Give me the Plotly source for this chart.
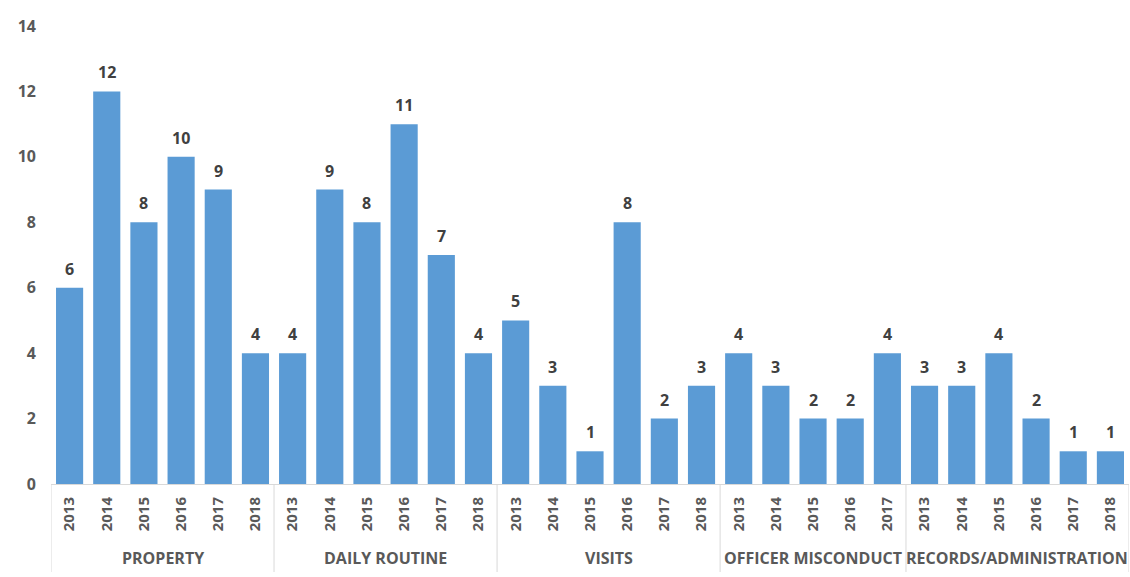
import plotly.graph_objects as go

groups = ["PROPERTY", "DAILY ROUTINE", "VISITS", "OFFICER MISCONDUCT", "RECORDS/ADMINISTRATION"]
group_years = [
    ["2013", "2014", "2015", "2016", "2017", "2018"],
    ["2013", "2014", "2015", "2016", "2017", "2018"],
    ["2013", "2014", "2015", "2016", "2017", "2018"],
    ["2013", "2014", "2015", "2016", "2017"],
    ["2013", "2014", "2015", "2016", "2017", "2018"],
]
property_vals = [6, 12, 8, 10, 9, 4]
daily_routine_vals = [4, 9, 8, 11, 7, 4]
visits_vals = [5, 3, 1, 8, 2, 3]
officer_misconduct_vals = [4, 3, 2, 2, 4]
records_admin_vals = [3, 3, 4, 2, 1, 1]
group_vals = [property_vals, daily_routine_vals, visits_vals, officer_misconduct_vals, records_admin_vals]
y_ticks = [0, 2, 4, 6, 8, 10, 12, 14]

xs, ys, labels = [], [], []
bounds = [-0.5]
i = 0
for yrs, vals in zip(group_years, group_vals):
    for yr, v in zip(yrs, vals):
        xs.append(i)
        ys.append(v)
        labels.append(yr)
        i += 1
    bounds.append(i - 0.5)

FONT = "Open Sans"
BAR = "#5B9BD5"
PLOT_H = 577 - 26 - 93
fig = go.Figure()
fig.add_trace(go.Bar(x=xs, y=ys, marker=dict(color=BAR, line=dict(width=0)), width=0.73,
                     hoverinfo="skip"))

for x, v in zip(xs, ys):
    fig.add_annotation(x=x, y=v, text=str(v), showarrow=False, yanchor="middle", yshift=19,
                       font=dict(family=FONT, size=16, color="#404040", weight="bold"))

# group labels
for g, a, b in zip(groups, bounds[:-1], bounds[1:]):
    fig.add_annotation(x=(a + b) / 2, y=0, yref="y", text=g, showarrow=False,
                       yanchor="middle", yshift=-74,
                       font=dict(family=FONT, size=16, color="#595959", weight="bold"))

# divider lines
for b in bounds:
    fig.add_shape(type="line", xref="x", yref="paper", x0=b, x1=b,
                  y0=0, y1=-88 / PLOT_H, line=dict(color="#D9D9D9", width=1))

fig.update_layout(
    width=1130, height=577,
    margin=dict(l=51, r=1, t=26, b=93),
    plot_bgcolor="white", paper_bgcolor="white",
    showlegend=False, bargap=0.27,
    xaxis=dict(range=[-0.5, len(xs) - 0.5], tickmode="array", tickvals=xs, ticktext=labels,
               tickangle=-90, showgrid=False, zeroline=False, showline=True,
               linecolor="#D9D9D9", linewidth=1, ticks="", ticklabelstandoff=6,
               tickfont=dict(family=FONT, size=15, color="#595959", weight="bold")),
    yaxis=dict(range=[0, 14], tickvals=y_ticks, showgrid=False, zeroline=False,
               showline=False, ticks="", ticklabelstandoff=14,
               tickfont=dict(family=FONT, size=16, color="#595959", weight="bold")),
)

fig.write_html("out.html")
